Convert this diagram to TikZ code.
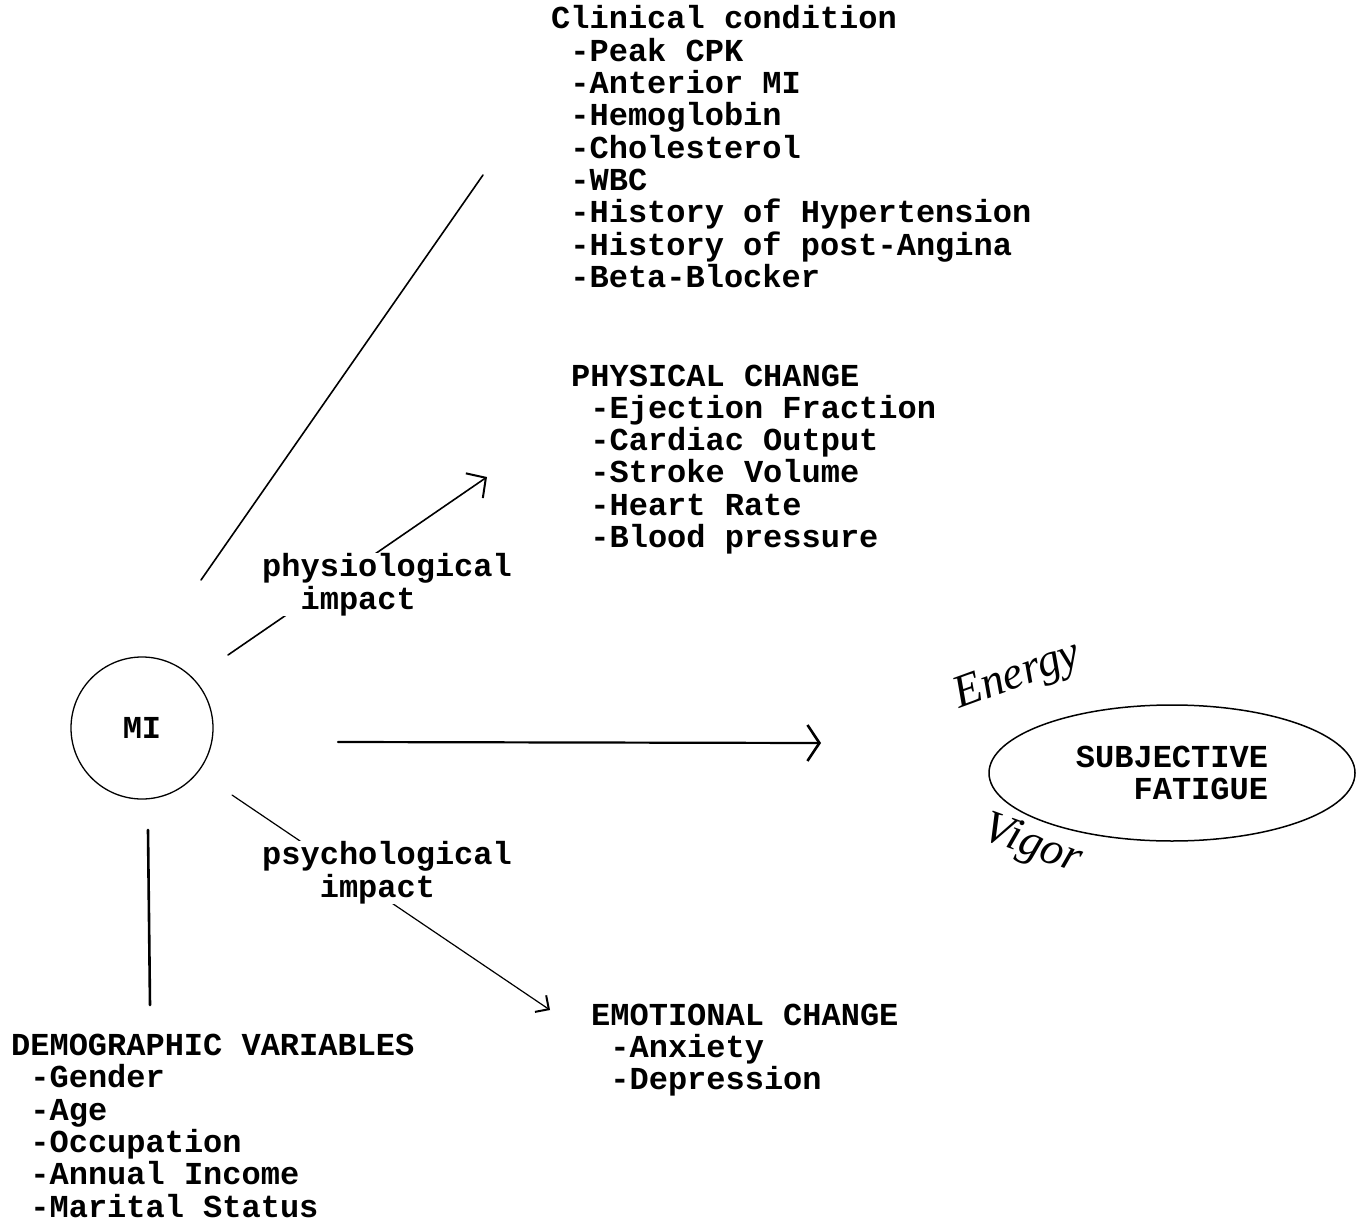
\documentclass[tikz,border=0pt]{standalone}
\usepackage{fontspec}
\setmonofont{Liberation Mono}
\newfontfamily\handfont{Liberation Serif}
\usetikzlibrary{arrows.meta,shapes.geometric}
\newcommand{\indt}[1][1]{\hphantom{\ifcase#1\or x\or xx\or xxx\fi}}
\tikzset{
  txt/.style={font=\fontsize{32}{32.3}\selectfont\ttfamily\bfseries, inner sep=0pt, align=left, anchor=base west},
  lab/.style={txt, fill=white, font=\fontsize{32}{33}\selectfont\ttfamily\bfseries},
  hand/.style={font=\fontsize{46}{46}\selectfont\handfont\itshape, inner sep=0pt},
  conn/.style={black, line width=1.6pt, line cap=round}
}

\begin{document}
\begin{tikzpicture}[x=1pt,y=-1pt]
\useasboundingbox (0,0) rectangle (1362,1222);
\node[txt] (clin) at (551,287.4) {Clinical condition\\
\indt-Peak CPK\\
\indt-Anterior MI\\
\indt-Hemoglobin\\
\indt-Cholesterol\\
\indt-WBC\\
\indt-History of Hypertension\\
\indt-History of post-Angina\\
\indt-Beta-Blocker};
\node[txt] (phys) at (571,547.5) {PHYSICAL CHANGE\\
\indt-Ejection Fraction\\
\indt-Cardiac Output\\
\indt-Stroke Volume\\
\indt-Heart Rate\\
\indt-Blood pressure};
\node[txt] (emo) at (591,1089.6) {EMOTIONAL CHANGE\\
\indt-Anxiety\\
\indt-Depression};
\node[txt] (demo) at (11,1217) {DEMOGRAPHIC VARIABLES\\
\indt-Gender\\
\indt-Age\\
\indt-Occupation\\
\indt-Annual Income\\
\indt-Marital Status};
\node[draw, circle, line width=1.3pt, minimum size=142pt, inner sep=0pt,
  font=\fontsize{32}{32}\selectfont\ttfamily\bfseries] (mi) at (142,728) {MI};
\node[draw, ellipse, line width=1.5pt, minimum width=366pt, minimum height=136pt, inner sep=0pt,
  align=right, font=\fontsize{32}{32.3}\selectfont\ttfamily\bfseries] (fatigue) at (1172,773) {SUBJECTIVE\\FATIGUE};
\node[hand, rotate=20] (energy) at (1018,677) {Energy};
\node[hand, rotate=-20] (vigor) at (1032,846) {Vigor};
\coordinate (clin-a) at (201,580);
\coordinate (clin-b) at (483,175);
\coordinate (phys-a) at (228,655);
\coordinate (phys-b) at (487,477);
\coordinate (emo-a) at (232,795);
\coordinate (emo-b) at (550,1010);
\coordinate (fat-a) at (338,742);
\coordinate (fat-b) at (821,743);
\coordinate (demo-a) at (148,830);
\coordinate (demo-b) at (150,1005);
\draw[conn] (clin-a) -- (clin-b);
\draw[conn, -{Straight Barb[length=14pt,width=30pt,line width=2pt]}] (phys-a) -- (phys-b);
\draw[conn, line width=1.2pt, -{Straight Barb[length=10pt,width=20pt,line width=2pt]}] (emo-a) -- (emo-b);
\draw[conn, line width=2.2pt, -{Straight Barb[length=12pt,width=36pt,line width=2.6pt]}] (fat-a) -- (fat-b);
\draw[conn, line width=2.6pt] (demo-a) -- (demo-b);
\node[lab] (physlab) at (262,609) {physiological\\\indt[2]impact};
\node[lab] (psylab) at (262,897) {psychological\\\indt[3]impact};
\end{tikzpicture}
\end{document}
